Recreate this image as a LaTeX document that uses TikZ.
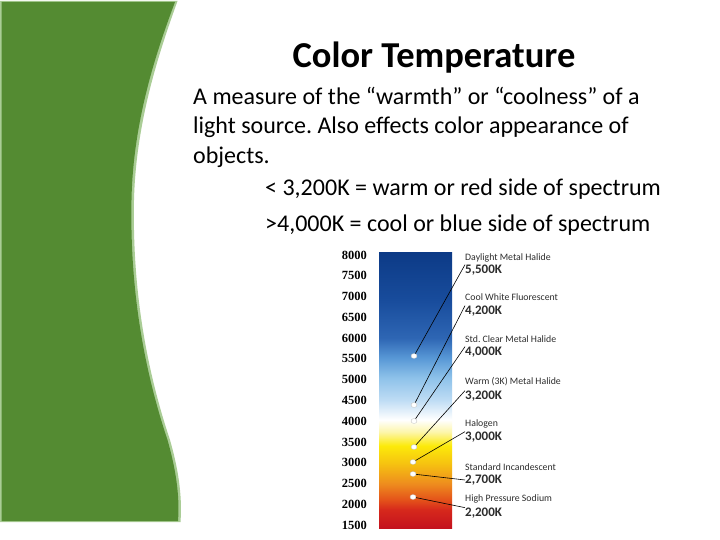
\documentclass[tikz,border=0pt]{standalone}
\usepackage{fontspec}
\setmainfont{Carlito}
\newfontfamily\tickfont{Liberation Serif}
\usetikzlibrary{shapes.geometric}
\frenchspacing
\definecolor{leafgreen}{RGB}{84,139,50}
\definecolor{leafedge}{RGB}{170,205,150}
\definecolor{labelgrey}{RGB}{45,45,45}
\definecolor{cA}{RGB}{196,18,30}
\definecolor{cB}{RGB}{214,40,28}
\definecolor{cC}{RGB}{228,82,26}
\definecolor{cD}{RGB}{238,140,30}
\definecolor{cE}{RGB}{246,196,16}
\definecolor{cF}{RGB}{252,234,10}
\definecolor{cG}{RGB}{253,246,170}
\definecolor{cH}{RGB}{255,255,255}
\definecolor{cI}{RGB}{190,220,244}
\definecolor{cJ}{RGB}{142,194,234}
\definecolor{cK}{RGB}{88,152,214}
\definecolor{cL}{RGB}{46,102,180}
\definecolor{cM}{RGB}{24,76,156}
\definecolor{cN}{RGB}{12,58,134}
\pgfdeclareverticalshading{ctemp}{100bp}{%
 color(0bp)=(cA); color(25bp)=(cA); color(28.3bp)=(cB); color(30.1bp)=(cC);
 color(33bp)=(cD); color(36.8bp)=(cE); color(39.9bp)=(cF); color(42.4bp)=(cG);
 color(44.6bp)=(cH); color(48.2bp)=(cI); color(52.2bp)=(cJ); color(55.8bp)=(cK);
 color(59.4bp)=(cL); color(66.3bp)=(cM); color(75bp)=(cN); color(100bp)=(cN)}
\tikzset{
  bodytext/.style={anchor=base west, inner sep=0pt, font=\fontsize{24}{28}\selectfont},
  tick/.style={anchor=east, inner sep=0pt, font=\tickfont\bfseries\fontsize{12.5}{14}\selectfont},
  lampname/.style={anchor=west, inner sep=0pt, text=labelgrey, font=\fontsize{9.8}{11}\selectfont},
  lampval/.style={anchor=west, inner sep=0pt, text=labelgrey, font=\bfseries\fontsize{13}{14}\selectfont},
  dot/.style={ellipse, fill=white, draw=black!25, line width=0.3pt, minimum width=6pt, minimum height=5pt, inner sep=0pt},
  leader/.style={draw=black, line width=0.6pt},
}
\begin{document}
\begin{tikzpicture}[x=1pt, y=-1pt]
\useasboundingbox (0,0) rectangle (720,540);
\fill[white] (0,0) rectangle (720,540);
% green side panel
\fill[leafedge] (0,1) -- (177.5,1)
  .. controls (160,50) and (136,120) .. (134,200)
  .. controls (132,300) and (150,380) .. (170,440)
  .. controls (180,475) and (182,500) .. (180.5,522) -- (0,522) -- cycle;
\fill[leafgreen] (1.5,2) -- (175,2)
  .. controls (157,50) and (133,120) .. (131.5,200)
  .. controls (129.5,300) and (147.5,380) .. (167.5,440)
  .. controls (177.5,475) and (179.5,500) .. (178,521) -- (1.5,521) -- cycle;
% texts
\node[anchor=base, inner sep=0pt, font=\bfseries\fontsize{36.5}{40}\selectfont] (title) at (434,68) {Color Temperature};
\node[bodytext] (l1) at (193,105) {A measure of the “warmth” or “coolness” of a};
\node[bodytext] (l2) at (193,134) {light source. Also effects color appearance of};
\node[bodytext] (l3) at (193,164) {objects.};
\node[bodytext] (l4) at (265,196) {< 3,200K = warm or red side of spectrum};
\node[bodytext] (l5) at (265,231) {>4,000K = cool or blue side of spectrum};
% bar
\shade[shading=ctemp] (379,252) rectangle (452,528);
% ticks
\foreach \v [count=\i from 0] in {8000,7500,7000,6500,6000,5500,5000,4500,4000,3500,3000,2500,2000,1500}
  \node[tick] (t\v) at (367,{255+\i*20.77}) {\v};
% dots
\node[dot] (d1) at (414,356) {};
\node[dot] (d2) at (414,405) {};
\node[dot] (d3) at (414,421) {};
\node[dot] (d4) at (414,447) {};
\node[dot] (d5) at (413,462) {};
\node[dot] (d6) at (413,474) {};
\node[dot] (d7) at (413,497) {};
% lamp labels
\node[lampname] (n1) at (465,258) {Daylight Metal Halide};
\node[lampval]  (v1) at (465,270) {5,500K};
\node[lampname] (n2) at (465,297) {Cool White Fluorescent};
\node[lampval]  (v2) at (465,311) {4,200K};
\node[lampname] (n3) at (465,339) {Std. Clear Metal Halide};
\node[lampval]  (v3) at (465,352) {4,000K};
\node[lampname] (n4) at (465,382) {Warm (3K) Metal Halide};
\node[lampval]  (v4) at (465,396) {3,200K};
\node[lampname] (n5) at (465,424) {Halogen};
\node[lampval]  (v5) at (465,437) {3,000K};
\node[lampname] (n6) at (465,467) {Standard Incandescent};
\node[lampval]  (v6) at (465,480) {2,700K};
\node[lampname] (n7) at (465,499) {High Pressure Sodium};
\node[lampval]  (v7) at (465,513) {2,200K};
% leaders
\draw[leader] (v1.north west) -- (d1);
\draw[leader] (v2.north west) -- (d2);
\draw[leader] (v3.north west) -- (d3);
\draw[leader] (v4.north west) -- (d4);
\draw[leader] (v5.north west) -- (d5);
\draw[leader] (v6.west) -- (d6);
\draw[leader] (v7.north west) -- (d7);
\end{tikzpicture}
\end{document}
